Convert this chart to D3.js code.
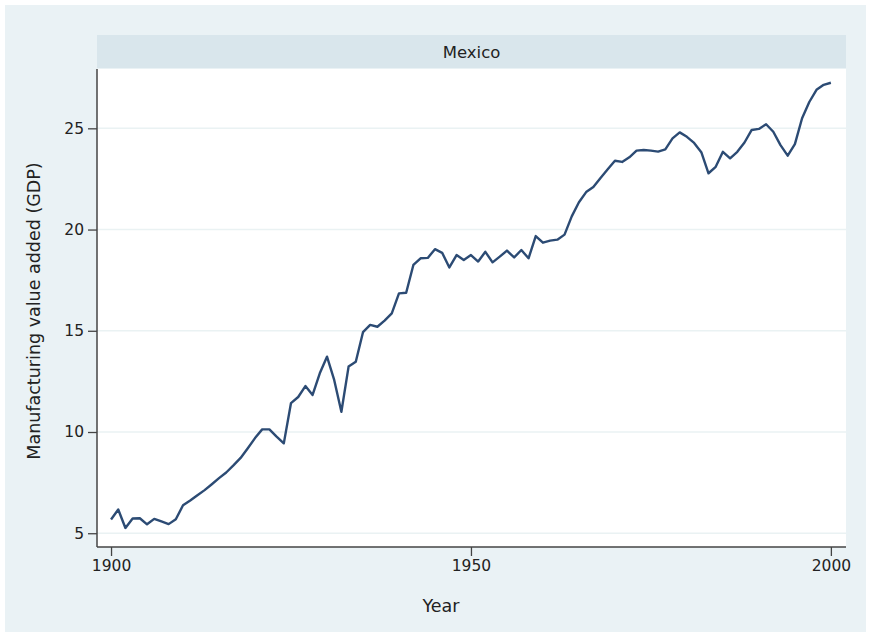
<!DOCTYPE html>
<html>
<head>
<meta charset="utf-8">
<script src="https://cdn.jsdelivr.net/npm/d3@7"></script>
<style>
  body { margin: 0; background: #ffffff; }
  text { font-family: "DejaVu Sans", sans-serif; fill: #222; }
</style>
</head>
<body>
<div id="chart"></div>
<script>

// panel title, axis labels
const panelTitle = "Mexico";
const xTitle = "Year";
const yTitle = "Manufacturing value added (GDP)";

// years 1900..2000 and values
const years = d3.range(1900, 2001);
const values = [
    5.68, 6.17, 5.26, 5.73, 5.74, 5.44, 5.71, 5.58, 5.45, 5.69,
    6.38, 6.62, 6.88, 7.13, 7.42, 7.72, 8.0, 8.35, 8.72, 9.2,
    9.7, 10.13, 10.13, 9.77, 9.44, 11.43, 11.73, 12.27, 11.83, 12.9,
    13.72, 12.57, 11.0, 13.23, 13.47, 14.93, 15.29, 15.2, 15.5, 15.86,
    16.85, 16.88, 18.25, 18.58, 18.6, 19.03, 18.85, 18.13, 18.74, 18.5,
    18.74, 18.42, 18.9, 18.38, 18.66, 18.96, 18.62, 18.99, 18.58, 19.68,
    19.35, 19.45, 19.5, 19.75, 20.65, 21.35, 21.85, 22.1, 22.55, 22.98,
    23.4, 23.34, 23.57, 23.9, 23.93, 23.9, 23.85, 23.96, 24.5, 24.8,
    24.58, 24.28, 23.82, 22.78, 23.1, 23.84, 23.52, 23.84, 24.3, 24.92,
    24.97, 25.2, 24.83, 24.17, 23.65, 24.22, 25.5, 26.3, 26.9, 27.15,
    27.25
];
const xTicks = [1900, 1950, 2000];
const yTicks = [5, 10, 15, 20, 25];

const width = 871, height = 636;
const plot = {left: 97, right: 846, top: 69, bottom: 547};

const svg = d3.select("#chart").append("svg")
    .attr("width", width)
    .attr("height", height);

// graph region background
svg.append("rect")
    .attr("x", 5).attr("y", 5)
    .attr("width", 861).attr("height", 627)
    .attr("fill", "#eaf2f5");

// plot region
svg.append("rect")
    .attr("x", plot.left).attr("y", plot.top)
    .attr("width", plot.right - plot.left).attr("height", plot.bottom - plot.top)
    .attr("fill", "#ffffff");

// strip with panel title
svg.append("rect")
    .attr("x", plot.left).attr("y", 35)
    .attr("width", plot.right - plot.left).attr("height", 33)
    .attr("fill", "#d9e6ec");

svg.append("text")
    .attr("x", (plot.left + plot.right) / 2)
    .attr("y", 58)
    .attr("text-anchor", "middle")
    .style("font-size", "16.5px")
    .text(panelTitle);

const x = d3.scaleLinear().domain([1898.05, 2002.1]).range([plot.left, plot.right]);
const y = d3.scaleLinear().domain([4.32, 27.93]).range([plot.bottom, plot.top]);

// gridlines
svg.selectAll(".grid")
    .data(yTicks)
    .enter().append("line")
    .attr("x1", plot.left)
    .attr("x2", plot.right)
    .attr("y1", d => y(d))
    .attr("y2", d => y(d))
    .attr("stroke", "#eaf2f3")
    .attr("stroke-width", 1.5);

// line
const line = d3.line()
    .x((d, i) => x(years[i]))
    .y(d => y(d));

svg.append("path")
    .datum(values)
    .attr("d", line)
    .attr("fill", "none")
    .attr("stroke", "#2c4b74")
    .attr("stroke-width", 2.4)
    .attr("stroke-linejoin", "round");

// axes
const xAxis = svg.append("g")
    .attr("transform", "translate(0," + plot.bottom + ")")
    .call(d3.axisBottom(x).tickValues(xTicks).tickFormat(d3.format("d")).tickSize(9).tickPadding(4));

const yAxis = svg.append("g")
    .attr("transform", "translate(" + plot.left + ",0)")
    .call(d3.axisLeft(y).tickValues(yTicks).tickSize(9).tickPadding(4));

[xAxis, yAxis].forEach(a => {
    a.select(".domain").remove();
    a.selectAll(".tick line").attr("stroke", "#444").attr("stroke-width", 1.3);
    a.selectAll(".tick text").style("font-size", "15.5px").attr("fill", "#222");
});

// axis lines drawn over the full plot region
svg.append("line")
    .attr("x1", plot.left).attr("x2", plot.left)
    .attr("y1", plot.top).attr("y2", plot.bottom)
    .attr("stroke", "#444").attr("stroke-width", 1.5);
svg.append("line")
    .attr("x1", plot.left).attr("x2", plot.right)
    .attr("y1", plot.bottom).attr("y2", plot.bottom)
    .attr("stroke", "#444").attr("stroke-width", 1.5);

// axis titles
svg.append("text")
    .attr("x", 441)
    .attr("y", 612)
    .attr("text-anchor", "middle")
    .style("font-size", "17.5px")
    .text(xTitle);

svg.append("text")
    .attr("transform", "translate(40," + 311 + ")rotate(-90)")
    .attr("text-anchor", "middle")
    .style("font-size", "17.5px")
    .text(yTitle);

</script>
</body>
</html>
